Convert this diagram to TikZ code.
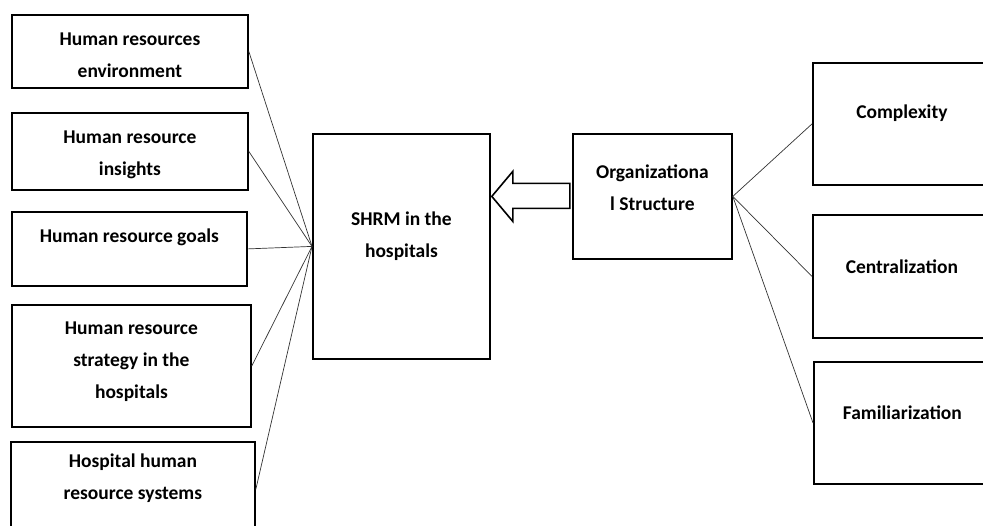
\documentclass[tikz,border=0pt]{standalone}
\usepackage{fontspec}
\setmainfont{Carlito}
\usetikzlibrary{positioning}
\tikzset{>=latex}

\begin{document}
\begin{tikzpicture}[x=1pt, y=-1pt]
                        % boxes are drawn empty, their texts sit a little above the centre
                        \tikzstyle{box}=[draw=black, line width=1.8pt, anchor=north west, inner sep=0pt]
                        \tikzstyle{txt}=[align=center, font=\fontsize{19.5}{32}\selectfont\bfseries, inner sep=0pt]
                        \tikzstyle{link}=[draw=black!80, line width=0.7pt]
                        \useasboundingbox (0,0) rectangle (983,525);
                        \clip (0,0) rectangle (983,525);

                        % left column
                        \node[box, minimum width=236pt, minimum height=73pt] (hre) at (11,14) {};
                        \node[txt] (hreT) at ([yshift=-4pt]hre.center) {Human resources\\environment};
                        \node[box, minimum width=236pt, minimum height=77pt] (hri) at (11,112) {};
                        \node[txt] (hriT) at ([yshift=-3pt]hri.center) {Human resource\\insights};
                        \node[box, minimum width=235pt, minimum height=74pt] (hrg) at (11,211) {};
                        \node[txt] (hrgT) at ([yshift=12pt]hrg.center) {Human resource goals};
                        \node[box, minimum width=239pt, minimum height=122pt] (hrs) at (11,304) {};
                        \node[txt] (hrsT) at ([yshift=4pt]hrs.center) {Human resource\\strategy in the\\hospitals};
                        \node[box, minimum width=244pt, minimum height=95pt] (hhr) at (10,441) {};
                        \node[txt] (hhrT) at ([yshift=11pt]hhr.center) {Hospital human\\resource systems};

                        % middle
                        \node[box, minimum width=177pt, minimum height=225pt] (shrm) at (312,133) {};
                        \node[txt] (shrmT) at ([yshift=10pt]shrm.center) {SHRM in the\\hospitals};
                        \node[box, minimum width=159pt, minimum height=125pt] (org) at (572,133) {};
                        \node[txt] (orgT) at ([yshift=9pt]org.center) {Organizationa\\l Structure};

                        % right column
                        \node[box, minimum width=178pt, minimum height=122pt] (cpx) at (812,62) {};
                        \node[txt] (cpxT) at ([yshift=11pt]cpx.center) {Complexity};
                        \node[box, minimum width=178pt, minimum height=123pt] (cen) at (812,214) {};
                        \node[txt] (cenT) at ([yshift=10pt]cen.center) {Centralization};
                        \node[box, minimum width=177pt, minimum height=122pt] (fam) at (813,361) {};
                        \node[txt] (famT) at ([yshift=10pt]fam.center) {Familiarization};

                        % links to the SHRM box
                        \draw[link] (hre.east) -- (shrm.west);
                        \draw[link] (hri.east) -- (shrm.west);
                        \draw[link] (hrg.east) -- (shrm.west);
                        \draw[link] (hrs.east) -- (shrm.west);
                        \draw[link] (hhr.east) -- (shrm.west);

                        % links from the structure box
                        \draw[link] (org.east) -- (cpx.west);
                        \draw[link] (org.east) -- (cen.west);
                        \draw[link] (org.east) -- (fam.west);

                        % block arrow
                        \draw[line width=1.6pt, fill=white] ([xshift=1pt]shrm.east |- org.west)
                                -- ++(21,-25) -- ++(0,12) -- ++(57,0) -- ++(0,25)
                                -- ++(-57,0) -- ++(0,13) -- cycle;
\end{tikzpicture}
\end{document}
